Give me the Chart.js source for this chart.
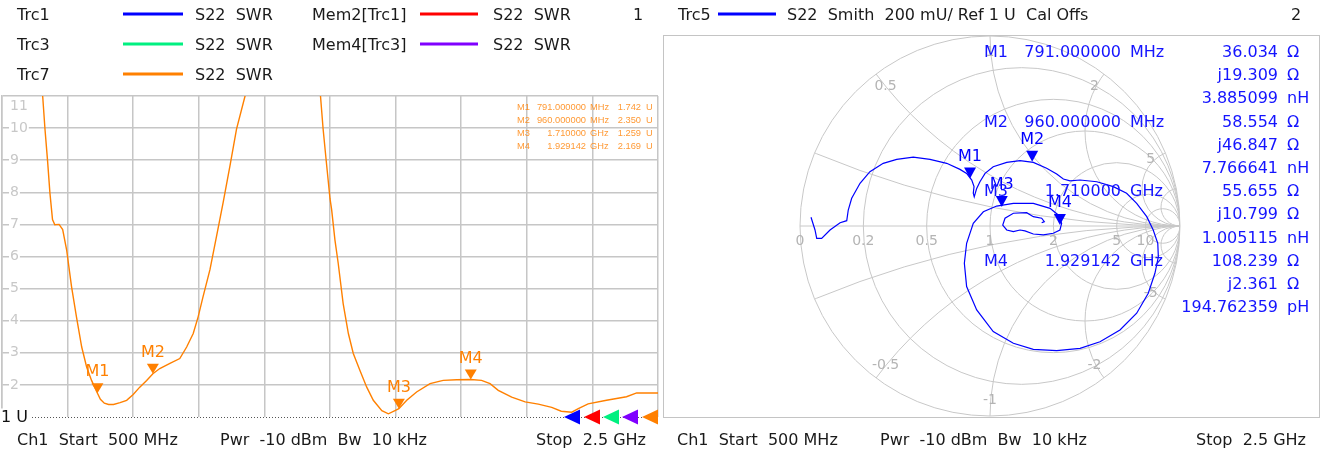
<!DOCTYPE html>
<html><head><meta charset="utf-8">
<title>S22 SWR / Smith</title>
<script src="https://cdn.jsdelivr.net/npm/chart.js@4.4.1/dist/chart.umd.min.js"></script>
<style>
html,body{margin:0;padding:0;background:#fff;}
body{width:1322px;height:454px;position:relative;overflow:hidden;font-family:"DejaVu Sans",sans-serif;font-size:16px;color:#1a1a1a;}
canvas{position:absolute;top:0;}
#swr{left:0;}
#smith{left:660px;}
.t{position:absolute;white-space:pre;line-height:16px;height:16px;transform:translateY(-50%);}
.t.r{transform:translate(-100%,-50%);}
.ln{position:absolute;height:3px;transform:translateY(-50%);}
.blue{color:#1414ff;}
.mt{font-family:"Liberation Sans",sans-serif;font-size:9.3px;line-height:10px;height:10px;color:rgba(255,128,0,0.8);}
</style></head><body>
<canvas id="swr" width="660" height="454"></canvas>
<canvas id="smith" width="662" height="454"></canvas>
<script>
// ---------------- data ----------------
const swrFreqMHz = [500,540,580,610,624,631,639,646,654,661,674,685,697,712,727,743,758,773,791,800,
  812,825,840,860,880,900,920,941,960,981,1012,1042,1063,1083,1098,1113,1134,1154,1174,1195,
  1215,1241,1280,1330,1380,1430,1471,1479,1488,1500,1505,1515,1525,1540,1556,1571,1591,1612,1632,1658,
  1678,1698,1710,1734,1764,1805,1845,1886,1929,1962,1988,2013,2054,2095,2135,2176,2205,2237,2257,2287,
  2343,2404,2435,2500];
const swrValues = [32,24,17,13,11.0,9.97,8.97,7.99,7.15,6.99,7.0,6.84,6.21,5.06,4.12,3.18,2.56,2.14,1.742,1.55,
  1.43,1.39,1.39,1.45,1.52,1.70,1.93,2.14,2.35,2.51,2.67,2.82,3.18,3.60,4.12,4.75,5.59,6.63,7.67,8.82,
  9.97,11.0,14,17,18,15,11.0,9.97,9.03,7.8,7.46,6.52,5.79,4.54,3.60,2.98,2.46,1.93,1.52,1.20,
  1.10,1.20,1.259,1.52,1.78,2.04,2.14,2.16,2.169,2.14,2.04,1.83,1.62,1.47,1.40,1.30,1.18,1.15,1.26,1.41,
  1.52,1.63,1.75,1.75];
const yTickValues = [2,3,4,5,6,7,8,9,10,11];
const refLevel = 1;
const markerNames = ['M1','M2','M3','M4'];
const markerFreqMHz = [791, 960, 1710, 1929.142];
const markerSWR = [1.742, 2.350, 1.259, 2.169];
const markerFreqText = ['791.000000','960.000000','1.710000','1.929142'];
const markerFreqUnit = ['MHz','MHz','GHz','GHz'];
const markerSWRText = ['1.742','2.350','1.259','2.169'];

// Smith trace (reflection coefficient, real / imaginary)
const smithRe = [-0.942,-0.921,-0.912,-0.886,-0.842,-0.789,-0.754,-0.746,-0.728,-0.684,-0.632,-0.562,-0.491,-0.404,-0.316,-0.228,-0.158,-0.123,-0.096,-0.084,
  -0.088,-0.083,-0.070,-0.053,-0.026,0.017,0.088,0.158,0.228,0.298,0.351,0.386,0.421,0.474,0.562,0.649,0.719,0.772,0.825,0.859,
  0.883,0.886,0.868,0.833,0.772,0.684,0.579,0.474,0.351,0.228,0.123,0.017,-0.070,-0.123,-0.135,-0.123,-0.088,-0.035,0.035,0.123,
  0.228,0.316,0.359,0.377,0.368,0.333,0.281,0.228,0.184,0.158,0.123,0.088,0.067,0.079,0.123,0.193,0.228,0.272,0.286,0.272];
const smithIm = [0.046,-0.021,-0.065,-0.065,-0.021,0.017,0.028,0.084,0.146,0.225,0.286,0.330,0.351,0.362,0.351,0.330,0.298,0.277,0.242,0.207,
  0.172,0.154,0.198,0.233,0.277,0.312,0.335,0.344,0.335,0.304,0.274,0.247,0.238,0.242,0.233,0.207,0.172,0.119,0.049,-0.021,
  -0.091,-0.162,-0.249,-0.354,-0.459,-0.547,-0.609,-0.644,-0.656,-0.649,-0.617,-0.556,-0.442,-0.319,-0.196,-0.091,0.014,0.075,0.105,0.119,
  0.119,0.093,0.058,0.014,-0.021,-0.038,-0.047,-0.042,-0.026,-0.021,-0.030,-0.021,0.005,0.041,0.067,0.070,0.049,0.041,0.023,0.017];
const smithMarkerRe = [-0.105, 0.222, 0.062, 0.368];
const smithMarkerIm = [0.250, 0.338, 0.100, 0.005];
const smithResistance = [0, 0.2, 0.5, 1, 2, 5, 10];
const smithReactance = [0.2, 0.5, 1, 2, 5, 10];
const smithReactanceLabels = [0.5, 1, 2, 5, -0.5, -1, -2, -5];
const smithMarkerR = ['36.034','58.554','55.655','108.239'];
const smithMarkerX = ['j19.309','j46.847','j10.799','j2.361'];
const smithMarkerL = ['3.885099','7.766641','1.005115','194.762359'];
const smithMarkerLUnit = ['nH','nH','nH','pH'];

const legendRows = [
  {trc:'Trc1', color:'#0000ff', mem:'Mem2[Trc1]', memColor:'#ff0000'},
  {trc:'Trc3', color:'#00f080', mem:'Mem4[Trc3]', memColor:'#8000ff'},
  {trc:'Trc7', color:'#ff8000', mem:null, memColor:null}
];
const refArrowColors = ['#0000ff','#ff0000','#00f080','#8000ff','#ff8000'];

// ---------------- text helpers ----------------
function addText(str, x, y, cls, right){
  const d = document.createElement('div');
  d.className = 't' + (cls ? ' ' + cls : '') + (right ? ' r' : '');
  d.textContent = str;
  d.style.left = x + 'px'; d.style.top = y + 'px';
  document.body.appendChild(d);
}
function addLine(x1, x2, y, color){
  const d = document.createElement('div');
  d.className = 'ln';
  d.style.left = x1 + 'px'; d.style.width = (x2 - x1) + 'px'; d.style.top = y + 'px';
  d.style.background = color;
  document.body.appendChild(d);
}

// left header
legendRows.forEach((row, i) => {
  const y = 15 + i * 30;
  addText(row.trc, 17, y);
  addLine(123, 183, y - 1, row.color);
  addText('S22  SWR', 195, y);
  if (row.mem){
    addText(row.mem, 312, y);
    addLine(420, 478, y - 1, row.memColor);
    addText('S22  SWR', 493, y);
  }
});
addText('1', 633, 15);
// right header
addText('Trc5', 678, 15);
addLine(718, 776, 14, '#0000ff');
addText('S22  Smith  200 mU/ Ref 1 U  Cal Offs', 787, 15);
addText('2', 1291, 15);
// footers
[0, 660].forEach(off => {
  addText('Ch1  Start  500 MHz', 17 + off, 440);
  addText('Pwr  -10 dBm  Bw  10 kHz', 220 + off, 440);
  addText('Stop  2.5 GHz', 646 + off, 440, '', true);
});
// left marker table
markerNames.forEach((m, i) => {
  const y = 107 + i * 13;
  addText(m, 517, y, 'mt');
  addText(markerFreqText[i], 586, y, 'mt', true);
  addText(markerFreqUnit[i], 590, y, 'mt');
  addText(markerSWRText[i], 641, y, 'mt', true);
  addText('U', 646, y, 'mt');
});
// smith marker info
markerNames.forEach((m, i) => {
  const y0 = 52 + i * 3 * 23.2;
  addText(m, 984, y0, 'blue');
  addText(markerFreqText[i], 1121, y0, 'blue', true);
  addText(markerFreqUnit[i], 1130, y0, 'blue');
  addText(smithMarkerR[i], 1278, y0, 'blue', true);
  addText('Ω', 1287, y0, 'blue');
  addText(smithMarkerX[i], 1278, y0 + 23.2, 'blue', true);
  addText('Ω', 1287, y0 + 23.2, 'blue');
  addText(smithMarkerL[i], 1278, y0 + 46.4, 'blue', true);
  addText(smithMarkerLUnit[i], 1287, y0 + 46.4, 'blue');
});

// ---------------- SWR chart ----------------
const GRID = '#c6c6c6';
const swrDecor = {
  id: 'swrDecor',
  beforeDatasetsDraw(chart){
    const {ctx, chartArea: a, scales: {x, y}} = chart;
    ctx.save();
    ctx.font = '14px "DejaVu Sans"';
    ctx.textBaseline = 'middle'; ctx.textAlign = 'left';
    yTickValues.forEach(v => {
      let py = y.getPixelForValue(v);
      if (v === y.max) py = a.top + 10;
      const s = String(v); const w = ctx.measureText(s).width;
      ctx.fillStyle = '#fff'; ctx.fillRect(9, py - 6, w + 2, 12);
      ctx.fillStyle = '#c8c8c8'; ctx.fillText(s, 10, py);
    });
    const ry = Math.round(y.getPixelForValue(refLevel)) + 0.5;
    ctx.fillStyle = '#fff'; ctx.fillRect(0, ry - 9, 31, 18);
    ctx.strokeStyle = '#555'; ctx.lineWidth = 1; ctx.setLineDash([1, 2]);
    ctx.beginPath(); ctx.moveTo(32, ry); ctx.lineTo(a.right, ry); ctx.stroke();
    ctx.setLineDash([]);
    ctx.font = '16px "DejaVu Sans"'; ctx.fillStyle = '#111';
    ctx.fillText('1 U', 1, ry);
    ctx.restore();
  },
  afterDatasetsDraw(chart){
    const {ctx, chartArea: a, scales: {x, y}} = chart;
    ctx.save();
    ctx.fillStyle = '#ff8000';
    ctx.font = '16px "DejaVu Sans"'; ctx.textAlign = 'center'; ctx.textBaseline = 'middle';
    markerNames.forEach((m, i) => {
      const px = x.getPixelForValue(markerFreqMHz[i]);
      const py = y.getPixelForValue(markerSWR[i]);
      ctx.beginPath(); ctx.moveTo(px, py); ctx.lineTo(px - 6, py - 10); ctx.lineTo(px + 6, py - 10); ctx.closePath(); ctx.fill();
      ctx.fillText(m, px, py - 21);
    });
    const ry = y.getPixelForValue(refLevel);
    const offs = [-78, -58, -39, -20, 0];
    refArrowColors.forEach((c, i) => {
      const xr = a.right + offs[i];
      ctx.fillStyle = c;
      ctx.beginPath(); ctx.moveTo(xr - 16, ry); ctx.lineTo(xr, ry - 7.5); ctx.lineTo(xr, ry + 7.5); ctx.closePath(); ctx.fill();
    });
    ctx.restore();
  }
};

new Chart(document.getElementById('swr'), {
  type: 'line',
  data: { datasets: [{
    data: swrFreqMHz.map((f, i) => ({x: f, y: swrValues[i]})),
    borderColor: '#ff8000', borderWidth: 1.4, pointRadius: 0, tension: 0, fill: false
  }]},
  options: {
    animation: false, responsive: false, maintainAspectRatio: false,
    layout: {padding: {left: 2, right: 2, top: 96, bottom: 37}},
    plugins: {legend: {display: false}, tooltip: {enabled: false}},
    scales: {
      x: {type: 'linear', min: 500, max: 2500,
          ticks: {display: false, stepSize: 200},
          grid: {color: GRID, lineWidth: 1.5, drawTicks: false},
          border: {display: false}},
      y: {type: 'linear', min: 1, max: 11,
          ticks: {display: false, stepSize: 1},
          grid: {color: c => (c.tick && c.tick.value === 1) ? 'rgba(0,0,0,0)' : GRID, lineWidth: 1.5, drawTicks: false},
          border: {display: true, color: GRID, width: 1.5}}
    }
  },
  plugins: [swrDecor]
});

// ---------------- Smith chart ----------------
const SG = '#c8c8c8';
const smithDecor = {
  id: 'smithDecor',
  beforeDatasetsDraw(chart){
    const {ctx, scales: {x, y}} = chart;
    const P = (u, v) => [x.getPixelForValue(u), y.getPixelForValue(v)];
    const [cx, cy] = P(0, 0);
    const R = x.getPixelForValue(1) - cx;
    ctx.save();
    ctx.strokeStyle = '#c4c4c4'; ctx.lineWidth = 1;
    ctx.strokeRect(3.5, 35.5, 656, 382);
    ctx.strokeStyle = SG;
    ctx.beginPath(); ctx.arc(cx, cy, R, 0, 2 * Math.PI); ctx.stroke();
    ctx.save();
    ctx.beginPath(); ctx.arc(cx, cy, R, 0, 2 * Math.PI); ctx.clip();
    smithResistance.forEach(r => {
      if (r === 0) return;
      const [px, py] = P(r / (1 + r), 0);
      ctx.beginPath(); ctx.arc(px, py, R / (1 + r), 0, 2 * Math.PI); ctx.stroke();
    });
    smithReactance.forEach(xv => [xv, -xv].forEach(xx => {
      const [px, py] = P(1, 1 / xx);
      ctx.beginPath(); ctx.arc(px, py, Math.abs(1 / xx) * R, 0, 2 * Math.PI); ctx.stroke();
    }));
    ctx.beginPath(); ctx.moveTo(cx - R, cy); ctx.lineTo(cx + R, cy); ctx.stroke();
    ctx.restore();
    // labels
    ctx.fillStyle = '#b4b4b4';
    ctx.font = '14px "DejaVu Sans"'; ctx.textAlign = 'center'; ctx.textBaseline = 'middle';
    smithResistance.forEach(r => {
      const [px] = P((r - 1) / (r + 1), 0);
      ctx.fillText(String(r), px, cy + 15);
    });
    smithReactanceLabels.forEach(xx => {
      const gu = (xx * xx - 1) / (xx * xx + 1), gv = 2 * xx / (xx * xx + 1);
      const [px, py] = P(gu, gv);
      const dx = (cx - px) / R, dy = (cy - py) / R;
      ctx.fillText(String(xx), px + dx * 16, py + dy * 16);
    });
    ctx.restore();
  },
  afterDatasetsDraw(chart){
    const {ctx, scales: {x, y}} = chart;
    ctx.save();
    ctx.fillStyle = '#0000ff';
    ctx.font = '16px "DejaVu Sans"'; ctx.textAlign = 'center'; ctx.textBaseline = 'middle';
    markerNames.forEach((m, i) => {
      const px = x.getPixelForValue(smithMarkerRe[i]);
      const py = y.getPixelForValue(smithMarkerIm[i]);
      ctx.beginPath(); ctx.moveTo(px, py); ctx.lineTo(px - 6, py - 11); ctx.lineTo(px + 6, py - 11); ctx.closePath(); ctx.fill();
      ctx.fillText(m, px, py - 22);
    });
    ctx.restore();
  }
};

new Chart(document.getElementById('smith'), {
  type: 'scatter',
  data: { datasets: [{
    data: smithRe.map((r, i) => ({x: r, y: smithIm[i]})),
    showLine: true, borderColor: '#0000ff', borderWidth: 1.2, pointRadius: 0, tension: 0
  }]},
  options: {
    animation: false, responsive: false, maintainAspectRatio: false,
    layout: {padding: {left: 140, right: 142, top: 36, bottom: 38}},
    plugins: {legend: {display: false}, tooltip: {enabled: false}},
    scales: {
      x: {type: 'linear', min: -1, max: 1, display: false},
      y: {type: 'linear', min: -1, max: 1, display: false}
    }
  },
  plugins: [smithDecor]
});
</script>
</body></html>
